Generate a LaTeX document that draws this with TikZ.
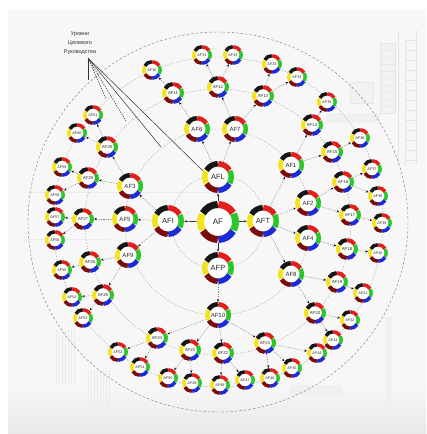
\documentclass[tikz,border=0pt]{standalone}
\usepackage{fontspec}
\setmainfont{Liberation Sans}
\usetikzlibrary{arrows.meta}
\definecolor{sgblack}{HTML}{151515}
\definecolor{sgred}{HTML}{E0201C}
\definecolor{sggreen}{HTML}{2CC52A}
\definecolor{sgblue}{HTML}{1C2BD6}
\definecolor{sgdred}{HTML}{7A0D0A}
\definecolor{sgyellow}{HTML}{F2E31E}
\newcommand\ringnd[7]{%
  \pgfmathsetmacro\mydd{2*#4}%
  \pgfmathsetmacro\myrr{#4-#5/2}%
  \node[circle, fill=white, inner sep=0pt, minimum size=\mydd pt, text=black!85,
        font=\fontsize{#6}{#6}\selectfont] (#1) at (#2,#3) {#7};
  \foreach \sa/\sb/\sc in {91/150/sgblack,31/89/sgred,-28/28/sggreen,-89/-31/sgblue,-150/-91/sgdred,153/207/sgyellow}{%
    \draw[\sc, line width=#5pt] (#1.center) ++({-\sa}:\myrr) arc[start angle={-\sa}, end angle={-\sb}, radius=\myrr];}%
}
\begin{document}
\begin{tikzpicture}[x=1pt,y=-1pt,
  ringc/.style={draw=black!35, dash pattern=on 1.5pt off 1.5pt, line width=0.4pt},
  lk/.style={draw=black!50, dash pattern=on 1.2pt off 1.2pt, line width=0.45pt, -{Stealth[length=2.6pt,width=2.2pt,black]}},
  lk0/.style={draw=black!80, line width=0.6pt, -{Stealth[length=3pt,width=2.4pt]}},
  deco/.style={draw=black!10, line width=0.5pt},
  anl/.style={draw=black!80, line width=0.5pt},
  and/.style={draw=black!80, line width=0.5pt, dash pattern=on 1.5pt off 1pt}]
\useasboundingbox (0,0) rectangle (426,434);
\fill[white] (0,0) rectangle (426,434);
\fill[black!3] (8,10) rectangle (426,434);
\shade[top color=black!3, bottom color=black!9] (8,385) rectangle (426,434);
% faint background pictures
\draw[deco] (398,30) -- (398,165) (416,30) -- (416,165) (405,40) -- (405,165);
\foreach \k in {40,50,...,160} {\draw[deco] (405,\k) -- (416,\k);}
\draw[deco, fill=black!5] (380,43) rectangle (395,113);
\foreach \k in {50,57,...,110} {\draw[black!9, line width=0.3pt] (380,\k) -- (395,\k);}
\draw[deco, fill=black!5] (350,82) rectangle (373,103);
\fill[black!6] (326,113) rectangle (380,123);
\draw[black!8, line width=0.5pt] (25,192) -- (213,192) (25,239) -- (110,239);
\fill[black!6] (290,385) rectangle (343,395);
\fill[black!6] (386,317) rectangle (392,407);
\foreach \k in {56,59,...,74} {\draw[black!8, line width=0.5pt] (\k,330) -- (\k,385);}
\foreach \k in {88,91,...,110} {\draw[black!8, line width=0.5pt] (\k,370) -- (\k,410);}
% concentric guide circles
\draw[ringc] (218,222) circle[radius=47];
\draw[ringc] (218,222) circle[radius=93];
\draw[ringc] (218,222) circle[radius=133];
\draw[ringc] (218,222) circle[radius=165];
\draw[draw=black!50, dash pattern=on 2.5pt off 2pt, line width=0.45pt] (218,222) circle[radius=190];
% annotation
\node[align=center, font=\fontsize{5.5}{9}\selectfont, text=black!80] (ann) at (80,43) {Уровни\\Целевого\\Руководства};
\coordinate (apx) at (88,58);
\coordinate (e1) at (88,80);
\coordinate (e2) at (106,99);
\coordinate (e3) at (126,121);
\coordinate (e4) at (161,147);
\coordinate (e5) at (204,172);
\draw[anl] (apx) -- (e1);
\draw[and] (apx) -- (e2);
\draw[and] (apx) -- (e3);
\draw[anl] (apx) -- (e4);
\draw[anl] (apx) -- (e5);
% nodes
\ringnd{af}{218}{222}{21}{7}{8}{AF}
\foreach \nn/\px/\py/\lb in {afl/218/177/AFL, afi/168/221/AFI, aft/263/221/AFT, afp/218/268/AFP}
  {\ringnd{\nn}{\px}{\py}{16}{5.5}{7.5}{\lb}}
\foreach \nn/\px/\py/\lb in {a6/197/129/AF6, a7/235/129/AF7, a1/291/165/AF1, a2/308/203/AF2, a4/308/238/AF4,
   a8/291/274/AF8, a10/218/315/AF10, a3/130/186/AF3, a5/125/219/AF5, a9/128/255/AF9}
  {\ringnd{\nn}{\px}{\py}{13}{4.5}{6}{\lb}}
\foreach \nn/\px/\py/\lb in {b1/173/93/AF11, b2/218/87/AF12, b3/263/96/AF13, b4/312/125/AF14, b5/332/152/AF15,
   b6/343/182/AF16, b7/350/215/AF17, b8/347/249/AF18, b9/337/282/AF19, b10/315/313/AF20,
   b11/265/343/AF21, b12/223/353/AF22, b13/190/350/AF23, b14/157/338/AF24, b15/103/295/AF25,
   b16/90/262/AF26, b17/83/219/AF27, b18/88/178/AF28, b19/107/147/AF29}
  {\ringnd{\nn}{\px}{\py}{11}{4}{4.3}{\lb}}
\foreach \nn/\px/\py/\lb in {c1/152/70/AF30, c2/202/55/AF31, c3/233/55/AF32, c4/272/64/AF33, c5/297/77/AF34,
   c6/327/102/AF35, c7/360/138/AF36, c8/372/169/AF37, c9/378/196/AF38, c10/382/223/AF39,
   c11/378/253/AF40, c12/363/293/AF41, c13/350/320/AF42, c14/333/340/AF43, c15/317/353/AF44,
   c16/292/368/AF45, c17/270/378/AF46, c18/245/380/AF47, c19/220/385/AF48, c20/192/383/AF49,
   c21/168/378/AF50, c22/140/367/AF51, c23/118/352/AF52, c24/83/318/AF53, c25/72/297/AF54,
   c26/62/270/AF55, c27/55/240/AF56, c28/55/217/AF57, c29/55/195/AF58, c30/62/167/AF59,
   c31/77/133/AF60, c32/93/115/AF61}
  {\ringnd{\nn}{\px}{\py}{10}{3.5}{3.8}{\lb}}
% connectors
\foreach \t in {afl,afi,aft,afp} {\draw[lk0] (af) -- (\t);}
\foreach \s/\t in {afl/a6, afl/a7, aft/a1, aft/a2, aft/a4, aft/a8, afp/a10, afi/a3, afi/a5, afi/a9}
  {\draw[lk] (\s) -- (\t);}
\foreach \s/\t in {a6/b1, a7/b2, a7/b3, a1/b4, a1/b5, a2/b6, a2/b7, a4/b8, a8/b9, a8/b10,
   a10/b11, a10/b12, a10/b13, a10/b14, a9/b15, a9/b16, a5/b17, a3/b18, a3/b19}
  {\draw[lk] (\s) -- (\t);}
\foreach \s/\t in {b1/c1, b2/c2, b2/c3, b3/c4, b3/c5, b4/c6, b5/c7, b6/c8, b6/c9, b7/c10, b8/c11,
   b9/c12, b10/c13, b10/c14, b11/c15, b11/c16, b11/c17, b12/c18, b12/c19, b13/c20, b13/c21,
   b14/c22, b14/c23, b15/c24, b15/c25, b16/c26, b17/c27, b17/c28, b18/c29, b18/c30, b19/c31, b19/c32}
  {\draw[lk] (\s) -- (\t);}
\end{tikzpicture}
\end{document}
